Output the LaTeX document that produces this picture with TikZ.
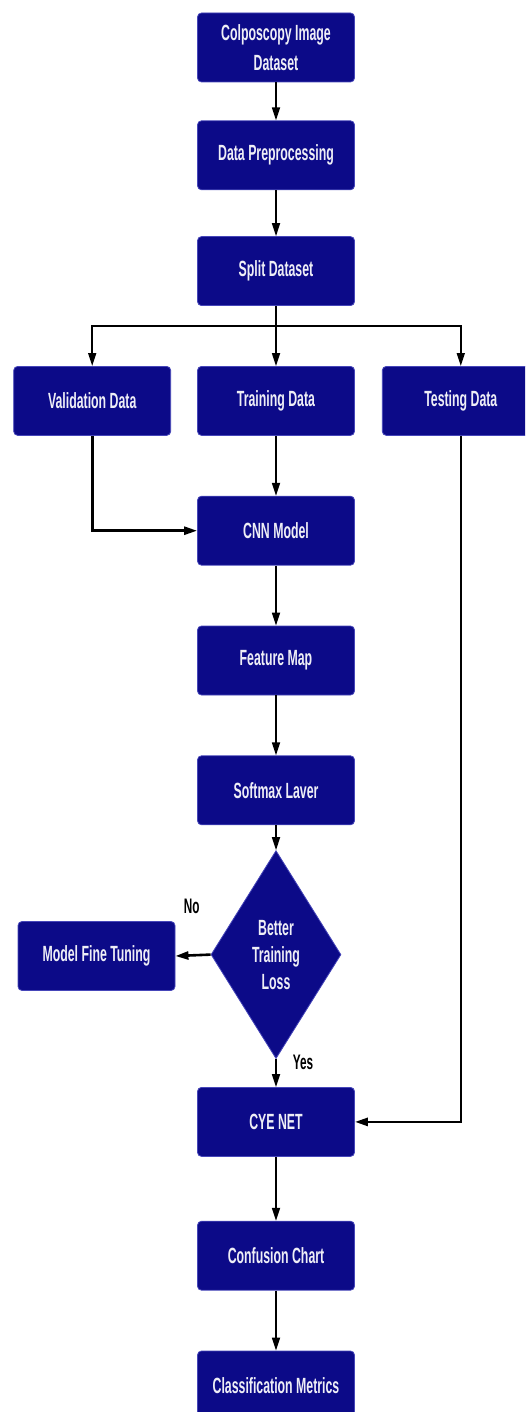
\documentclass[tikz,border=0pt]{standalone}
\usepackage{fontspec}
\setmainfont{Liberation Sans}[FakeStretch=0.56]
\usepackage{tikz}
\usetikzlibrary{arrows.meta, positioning, shapes.geometric, calc}
\definecolor{boxfill}{RGB}{12,10,136}
\definecolor{boxedge}{RGB}{70,70,185}
\definecolor{boxtext}{RGB}{238,238,246}

\begin{document}
\begin{tikzpicture}[
  x=1pt, y=-1pt,
  font=\fontsize{22}{30}\selectfont\bfseries,
  proc/.style={
    draw=boxedge, line width=0.8pt, fill=boxfill, text=boxtext, rounded corners=4pt,
    minimum width=157pt, minimum height=69pt, align=center, inner sep=2pt
  },
  decide/.style={
    diamond, draw=boxedge, line width=0.8pt, fill=boxfill, text=boxtext,
    minimum width=130pt, minimum height=208pt, align=center, inner sep=0pt,
    font=\fontsize{22}{27}\selectfont\bfseries
  },
  lbl/.style={font=\fontsize{21}{24}\selectfont\bfseries, text=black},
  ax/.style={-{Triangle[length=13pt,width=8pt]}, line width=1.7pt, draw=black},
  axw/.style={ax, line width=2.6pt}
]
\useasboundingbox (0,0) rectangle (525,1412);
\clip (0,0) rectangle (525,1412);

% ---- main column, top to bottom
\node[proc] (data)  at (276,47.5) {Colposcopy Image\\Dataset};
\node[proc] (prep)  [below=38pt of data]  {Data Preprocessing};
\node[proc] (split) [below=46pt of prep]  {Split Dataset};

% ---- the three subsets
\node[proc] (train) [below=60pt of split] {Training Data};
\node[proc] (valid) [left=26pt of train]  {Validation Data};
\node[proc] (test)  [right=27pt of train] {Testing Data};

\node[proc]   (cnn)  [below=60pt of train] {CNN Model};
\node[proc]   (feat) [below=60pt of cnn]   {Feature Map};
\node[proc]   (soft) [below=60pt of feat]  {Softmax Laver};
\node[decide] (loss) [below=25pt of soft]  {Better\\Training\\Loss};
\node[proc]   (tune) at (96.5,956)         {Model Fine Tuning};
\node[proc]   (cye)  [below=28pt of loss]  {CYE NET};
\node[proc]   (conf) [below=64pt of cye]   {Confusion Chart};
\node[proc]   (metr) [below=60pt of conf]  {Classification Metrics};

% ---- connectors
\draw[ax] (data) -- (prep);
\draw[ax] (prep) -- (split);
\draw[ax] (split.south) -- ++(0,20) coordinate (fork) -- (train.north);
\draw[ax] (fork) -| (valid.north);
\draw[ax] (fork) -| (test.north);
\draw[axw] (valid.south) |- (cnn.west);

\foreach \a/\b in {train/cnn, cnn/feat, feat/soft, soft/loss, loss/cye, cye/conf, conf/metr}
  \draw[ax] (\a) -- (\b);

\draw[axw] (loss.west) -- (tune.east);
\draw[axw] (test.south) |- (cye.east);

% ---- decision labels
\node[lbl] (no)  at ($(loss.west)+(-19,-48)$) {No};
\node[lbl] (yes) at ($(loss.south)+(27,3)$)  {Yes};

\end{tikzpicture}
\end{document}
